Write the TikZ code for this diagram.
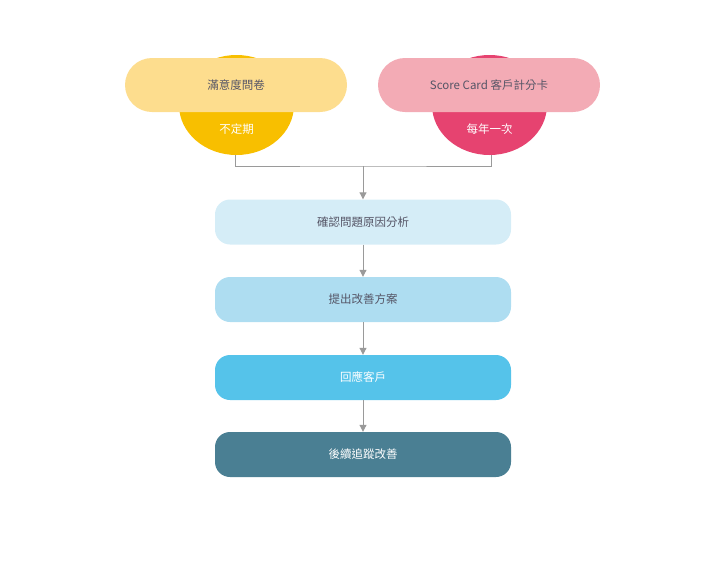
\documentclass[tikz,border=0pt]{standalone}
\usepackage{fontspec}
\setmainfont{Noto Sans CJK TC}
\usetikzlibrary{arrows.meta}
\definecolor{ylight}{HTML}{FDDD8E}
\definecolor{ydark}{HTML}{F8BF00}
\definecolor{plight}{HTML}{F3ABB5}
\definecolor{pdark}{HTML}{E64370}
\definecolor{b1}{HTML}{D5EDF7}
\definecolor{b2}{HTML}{AEDDF1}
\definecolor{b3}{HTML}{55C3EA}
\definecolor{b4}{HTML}{4A7F93}
\definecolor{txt}{HTML}{555566}
\definecolor{ln}{HTML}{9A9A9A}
\begin{document}
\begin{tikzpicture}[x=1pt,y=-1pt,
  pill/.style={rounded corners=27pt,minimum width=222pt,minimum height=54pt,inner sep=0pt,font=\fontsize{11.5}{13}\selectfont,text=txt},
  stepbox/.style={rounded corners=15pt,minimum width=296pt,minimum height=45pt,inner sep=0pt,font=\fontsize{11.5}{13}\selectfont},
  conn/.style={draw=ln,line width=1pt},
  arr/.style={conn,-{Triangle[length=7pt,width=7pt]}}]
\useasboundingbox (0,0) rectangle (711,581);
\fill[ydark] (236.5,105) ellipse [x radius=57.5, y radius=50];
\fill[pdark] (489.5,105) ellipse [x radius=57.5, y radius=50];
\node[pill,fill=ylight] (q) at (236,85) {滿意度問卷};
\node[pill,fill=plight] (s) at (489,85) {Score Card 客戶計分卡};
\node[font=\fontsize{11.5}{13}\selectfont,text=white] (qa) at (236.5,129) {不定期};
\node[font=\fontsize{11.5}{13}\selectfont,text=white] (sa) at (489.5,129) {每年一次};
\coordinate (qb) at (235,155);
\coordinate (sb) at (491,155);
\coordinate (m) at (363,166);
\node[stepbox,fill=b1,text=txt] (n1) at (363,222) {確認問題原因分析};
\node[stepbox,fill=b2,text=txt] (n2) at (363,299.5) {提出改善方案};
\node[stepbox,fill=b3,text=white] (n3) at (363,377.5) {回應客戶};
\node[stepbox,fill=b4,text=white] (n4) at (363,454.5) {後續追蹤改善};
\draw[conn] (qb) |- (m) -| (sb);
\draw[arr] (m) -- (n1.north);
\draw[arr] (n1) -- (n2);
\draw[arr] (n2) -- (n3);
\draw[arr] (n3) -- (n4);
\end{tikzpicture}
\end{document}
